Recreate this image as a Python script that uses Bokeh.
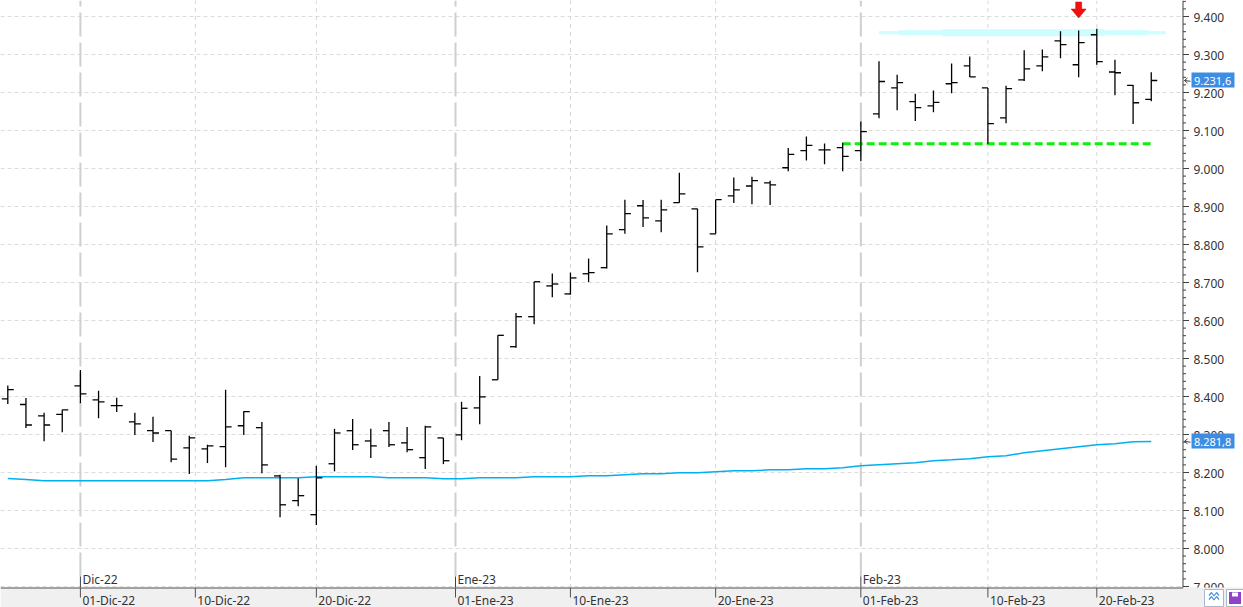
import numpy as np
from datetime import date
from bokeh.plotting import figure
from bokeh.models import ColumnDataSource, Range1d
from bokeh.embed import file_html
from bokeh.resources import INLINE
from bokeh.core.properties import value

# ---------------- data ----------------
dates = ["2022-11-25", "2022-11-28", "2022-11-29", "2022-11-30",
         "2022-12-01", "2022-12-02", "2022-12-05", "2022-12-06", "2022-12-07", "2022-12-08",
         "2022-12-09", "2022-12-12", "2022-12-13", "2022-12-14", "2022-12-15", "2022-12-16",
         "2022-12-19", "2022-12-20", "2022-12-21", "2022-12-22", "2022-12-23", "2022-12-27",
         "2022-12-28", "2022-12-29", "2022-12-30",
         "2023-01-02", "2023-01-03", "2023-01-04", "2023-01-05", "2023-01-06", "2023-01-09",
         "2023-01-10", "2023-01-11", "2023-01-12", "2023-01-13", "2023-01-16", "2023-01-17",
         "2023-01-18", "2023-01-19", "2023-01-20", "2023-01-23", "2023-01-24", "2023-01-25",
         "2023-01-26", "2023-01-27", "2023-01-30", "2023-01-31",
         "2023-02-01", "2023-02-02", "2023-02-03", "2023-02-06", "2023-02-07", "2023-02-08",
         "2023-02-09", "2023-02-10", "2023-02-13", "2023-02-14", "2023-02-15", "2023-02-16",
         "2023-02-17", "2023-02-20", "2023-02-21", "2023-02-22", "2023-02-23"]

opens = [8394, 8379, 8349, 8353, 8428, 8391, 8376, 8333, 8310, 8310,
         8265, 8262, 8268, 8323, 8318, 8191, 8126, 8089, 8223, 8310,
         8283, 8310, 8278, 8239, 8291, 8299, 8370, 8444, 8531, 8610,
         8691, 8670, 8723, 8739, 8839, 8902, 8862, 8910, 8894, 8828,
         8928, 8954, 8962, 9002, 9047, 9049, 9055, 9047, 9144, 9212,
         9176, 9165, 9223, 9270, 9212, 9133, 9233, 9270, 9336, 9273,
         9352, 9254, 9219, 9182]
highs = [8429, 8396, 8357, 8365, 8470, 8415, 8397, 8357, 8347, 8310,
         8297, 8273, 8418, 8361, 8333, 8194, 8185, 8218, 8315, 8341,
         8315, 8333, 8320, 8323, 8291, 8386, 8454, 8561, 8620, 8702,
         8724, 8726, 8763, 8850, 8918, 8917, 8918, 8989, 8894, 8918,
         8976, 8978, 8968, 9054, 9084, 9066, 9068, 9124, 9282, 9247,
         9197, 9205, 9276, 9295, 9212, 9218, 9311, 9313, 9361, 9363,
         9368, 9286, 9220, 9253]
lows = [8380, 8317, 8282, 8306, 8382, 8343, 8359, 8299, 8280, 8227,
        8196, 8225, 8214, 8299, 8198, 8082, 8111, 8062, 8203, 8259,
        8238, 8267, 8253, 8209, 8222, 8285, 8327, 8444, 8528, 8590,
        8661, 8668, 8701, 8737, 8828, 8846, 8832, 8910, 8727, 8828,
        8909, 8906, 8904, 8993, 9021, 9011, 8993, 9019, 9132, 9153,
        9125, 9148, 9198, 9241, 9065, 9119, 9230, 9256, 9290, 9240,
        9273, 9193, 9117, 9177]
closes = [8418, 8325, 8325, 8365, 8407, 8386, 8376, 8328, 8304, 8235,
          8291, 8270, 8320, 8360, 8220, 8115, 8139, 8186, 8304, 8273,
          8270, 8273, 8260, 8320, 8231, 8369, 8399, 8561, 8610, 8702,
          8696, 8712, 8726, 8828, 8881, 8870, 8891, 8933, 8794, 8918,
          8944, 8968, 8957, 9037, 9061, 9049, 9032, 9097, 9229, 9226,
          9160, 9174, 9226, 9241, 9118, 9210, 9262, 9294, 9326, 9331,
          9281, 9252, 9173, 9231.6]
ma = [8184.2, 8181.6, 8178.2, 8178.2, 8178.2, 8178.2, 8178.2, 8178.2, 8178.2, 8178.2,
      8178.2, 8178.2, 8181.6, 8186.1, 8186.1, 8186.1, 8186.1, 8188.7, 8188.7, 8188.7,
      8188.7, 8186.1, 8186.1, 8186.1, 8183.4, 8183.4, 8186.1, 8186.1, 8186.1, 8188.7,
      8188.7, 8188.7, 8191.3, 8191.3, 8193.9, 8196.6, 8196.6, 8199.2, 8199.2, 8201.8,
      8204.5, 8204.5, 8207.1, 8207.1, 8209.7, 8209.7, 8212.4, 8217.6, 8220.3, 8222.9,
      8225.5, 8230.8, 8233.4, 8236.1, 8241.3, 8244.0, 8251.8, 8257.1, 8262.4, 8267.6,
      8272.9, 8275.5, 8280.8, 8281.8]

date_ticks = ["2022-12-01", "2022-12-10", "2022-12-20", "2023-01-01", "2023-01-10",
              "2023-01-20", "2023-02-01", "2023-02-10", "2023-02-20"]
date_tick_labels = ["01-Dic-22", "10-Dic-22", "20-Dic-22", "01-Ene-23", "10-Ene-23",
                    "20-Ene-23", "01-Feb-23", "10-Feb-23", "20-Feb-23"]
month_ticks = ["2022-12-01", "2023-01-01", "2023-02-01"]
month_labels = ["Dic-22", "Ene-23", "Feb-23"]
y_ticks = list(range(7900, 9401, 100))
y_tick_labels = ["7.900", "8.000", "8.100", "8.200", "8.300", "8.400", "8.500", "8.600",
                 "8.700", "8.800", "8.900", "9.000", "9.100", "9.200", "9.300", "9.400"]
y_minor = [v for v in range(7900, 9441, 20) if v % 100 != 0]

last_close_label = "9.231,6"
ma_last_label = "8.281,8"
support_level = 9065
support_from, support_to = "2023-01-31", "2023-02-23"
resistance_level = 9357
resistance_from, resistance_to = "2023-02-02", "2023-02-23"
signal_date = "2023-02-17"

# ---------------- geometry ----------------
W, H = 1243, 607
PX_PER_BAR = 18.15
X0_PX = 7.3
PX_PER_UNIT = 0.38
AXIS_X = 1182.5      # right price axis line
AXIS_Y = 587.5       # bottom date axis line
TXT_SHIFT = 4.0      # baseline correction for rendered text
x_start = -X0_PX / PX_PER_BAR
x_end = x_start + W / PX_PER_BAR
y_top = 9400 + 16 / PX_PER_UNIT
y_bottom = y_top - H / PX_PER_UNIT

ords = [date.fromisoformat(d).toordinal() for d in dates]
idx = np.arange(len(dates), dtype=float)


def pos(dstr):
    return float(np.interp(date.fromisoformat(dstr).toordinal(), ords, idx))


def dx(px):
    return px / PX_PER_BAR


def px_x(px):
    return x_start + px / PX_PER_BAR


def vy(py):
    return y_top - py / PX_PER_UNIT


def py_of(v):
    return (y_top - v) * PX_PER_UNIT


FONT = value("Noto Sans")
TXT = "#333333"
AXC = "#404040"

p = figure(width=W, height=H, x_range=Range1d(x_start, x_end), y_range=Range1d(y_bottom, y_top),
           output_backend="svg", toolbar_location=None, x_axis_location=None,
           y_axis_location=None, min_border=0, background_fill_color="white",
           border_fill_color="white", outline_line_color=None)
p.grid.visible = False

# horizontal grid
n = len(y_ticks)
p.segment(x0=[x_start] * n, y0=y_ticks, x1=[px_x(AXIS_X - 1)] * n, y1=y_ticks,
          line_color="#dcdcdc", line_width=1, line_dash="4 3")

# vertical grid
minor_dates = [pos(d) for d in date_ticks if d not in month_ticks]
p.segment(x0=minor_dates, y0=[vy(AXIS_Y)] * len(minor_dates), x1=minor_dates,
          y1=[y_top] * len(minor_dates), line_color="#d6d6d6", line_width=1, line_dash="4 4")
mx = [pos(d) for d in month_ticks]
p.segment(x0=mx, y0=[vy(576)] * len(mx), x1=mx, y1=[y_top] * len(mx),
          line_color="#cfcfcf", line_width=2, line_dash="24 6")

# resistance band (light cyan)
r0, r1 = pos(resistance_from), pos(resistance_to)
for ext0, ext1, lw in [(0.0, 0.8, 3), (1.1, -0.15, 5), (3.5, -2.6, 7)]:
    p.segment(x0=[r0 + ext0], y0=[resistance_level], x1=[r1 + ext1], y1=[resistance_level],
              line_color="#ccfdff", line_width=lw, line_cap="butt")

# moving average
p.line(idx, ma, line_color="#00b0f0", line_width=1.5)

# support line
p.segment(x0=[pos(support_from)], y0=[support_level], x1=[pos(support_to)], y1=[support_level],
          line_color="#11ee11", line_width=3, line_dash="8 4")

# OHLC bars
tick = dx(6)
src = ColumnDataSource(dict(x=idx, o=opens, h=highs, l=lows, c=closes,
                            xl=idx - tick, xr=idx + tick))
p.segment(x0="x", y0="l", x1="x", y1="h", source=src, line_color="black", line_width=1.3)
p.segment(x0="xl", y0="o", x1="x", y1="o", source=src, line_color="black", line_width=1.3)
p.segment(x0="x", y0="c", x1="xr", y1="c", source=src, line_color="black", line_width=1.3)

# red signal arrow
cx = pos(signal_date)
ax_px = [-3, 3, 3, 7.5, 0, -7.5, -3]
ay_px = [1.5, 1.5, 8.5, 8.5, 17.5, 8.5, 8.5]
p.patch([cx + dx(a) for a in ax_px], [vy(b) for b in ay_px],
        fill_color="#f01010", line_color="#d00000", line_width=0.5)

# month labels and ticks
p.segment(x0=mx, y0=[vy(576)] * len(mx), x1=mx, y1=[vy(AXIS_Y)] * len(mx),
          line_color=AXC, line_width=1)
p.text(x=[m + dx(2) for m in mx], y=[vy(582.5 - TXT_SHIFT)] * len(mx), text=month_labels,
       text_font=FONT, text_font_size="12px", text_color=TXT,
       text_baseline="alphabetic", text_align="left")

# right price axis
p.segment(x0=[px_x(AXIS_X)], y0=[vy(0)], x1=[px_x(AXIS_X)], y1=[vy(AXIS_Y)],
          line_color=AXC, line_width=1)
p.segment(x0=[px_x(AXIS_X)] * n, y0=y_ticks, x1=[px_x(AXIS_X + 6)] * n, y1=y_ticks,
          line_color=AXC, line_width=1)
nm = len(y_minor)
p.segment(x0=[px_x(AXIS_X)] * nm, y0=y_minor, x1=[px_x(AXIS_X + 3)] * nm, y1=y_minor,
          line_color=AXC, line_width=1)
p.text(x=[px_x(1193)] * n, y=[vy(py_of(v) + 4.5 - TXT_SHIFT) for v in y_ticks], text=y_tick_labels,
       text_font=FONT, text_font_size="12px", text_color=TXT,
       text_baseline="alphabetic", text_align="left")

# bottom band with date axis
p.quad(left=[x_start], right=[x_end], bottom=[y_bottom], top=[vy(AXIS_Y - 0.5)],
       fill_color="#f0f0f0", line_color=None)
p.segment(x0=[x_start], y0=[vy(AXIS_Y)], x1=[px_x(AXIS_X)], y1=[vy(AXIS_Y)],
          line_color="#505050", line_width=1)
tx = [pos(d) for d in date_ticks]
p.segment(x0=tx, y0=[vy(AXIS_Y)] * len(tx), x1=tx, y1=[vy(597)] * len(tx),
          line_color="#505050", line_width=1)
p.text(x=[t + dx(2) for t in tx], y=[vy(603.5 - TXT_SHIFT)] * len(tx), text=date_tick_labels,
       text_font=FONT, text_font_size="12px", text_color=TXT,
       text_baseline="alphabetic", text_align="left")

# small toolbar icons at bottom-right
b1, b2 = px_x(1213.5), px_x(1234.5)
yc = vy(597.5)
p.rect(x=[b1, b2], y=[yc, yc], width=[dx(19), dx(17)], height=[17 / PX_PER_UNIT] * 2,
       fill_color="white", line_color="#a8b8c8", line_width=1)
zz_x = [b1 + dx(v) for v in [-5, -2.5, 0, 2.5, 5]]
p.line(zz_x, [vy(595), vy(592), vy(595.5), vy(592), vy(595)], line_color="#4a90d9", line_width=1.2)
p.line(zz_x, [vy(599), vy(596), vy(599.5), vy(596), vy(599)], line_color="#4a90d9", line_width=1.2)
p.rect(x=[b2], y=[yc], width=[dx(12)], height=[12 / PX_PER_UNIT], fill_color="#8e44c8", line_color=None)
p.rect(x=[b2], y=[vy(594)], width=[dx(6)], height=[4 / PX_PER_UNIT], fill_color="white", line_color=None)

# price tags on the right axis
tag_vals = [closes[-1], ma[-1]]
tag_texts = [last_close_label, ma_last_label]
tag_py = [py_of(v) for v in tag_vals]
p.quad(left=[px_x(1191)] * 2, right=[px_x(1234)] * 2,
       bottom=[vy(t + 7) for t in tag_py], top=[vy(t - 8) for t in tag_py],
       fill_color="#3c8de3", line_color=None)
p.text(x=[px_x(1193.5)] * 2, y=[vy(t + 4.5 - TXT_SHIFT) for t in tag_py], text=tag_texts,
       text_font=FONT, text_font_size="11px", text_color="white",
       text_baseline="alphabetic", text_align="left")
for t in tag_py:
    p.segment(x0=[px_x(1184)], y0=[vy(t)], x1=[px_x(1190)], y1=[vy(t + 0.8)],
              line_color=AXC, line_width=1)
    p.segment(x0=[px_x(1184)], y0=[vy(t)], x1=[px_x(1187)], y1=[vy(t - 2.5)],
              line_color=AXC, line_width=1)
    p.segment(x0=[px_x(1184)], y0=[vy(t)], x1=[px_x(1187)], y1=[vy(t + 2.5)],
              line_color=AXC, line_width=1)

open("out.html", "w").write(file_html(p, INLINE))
